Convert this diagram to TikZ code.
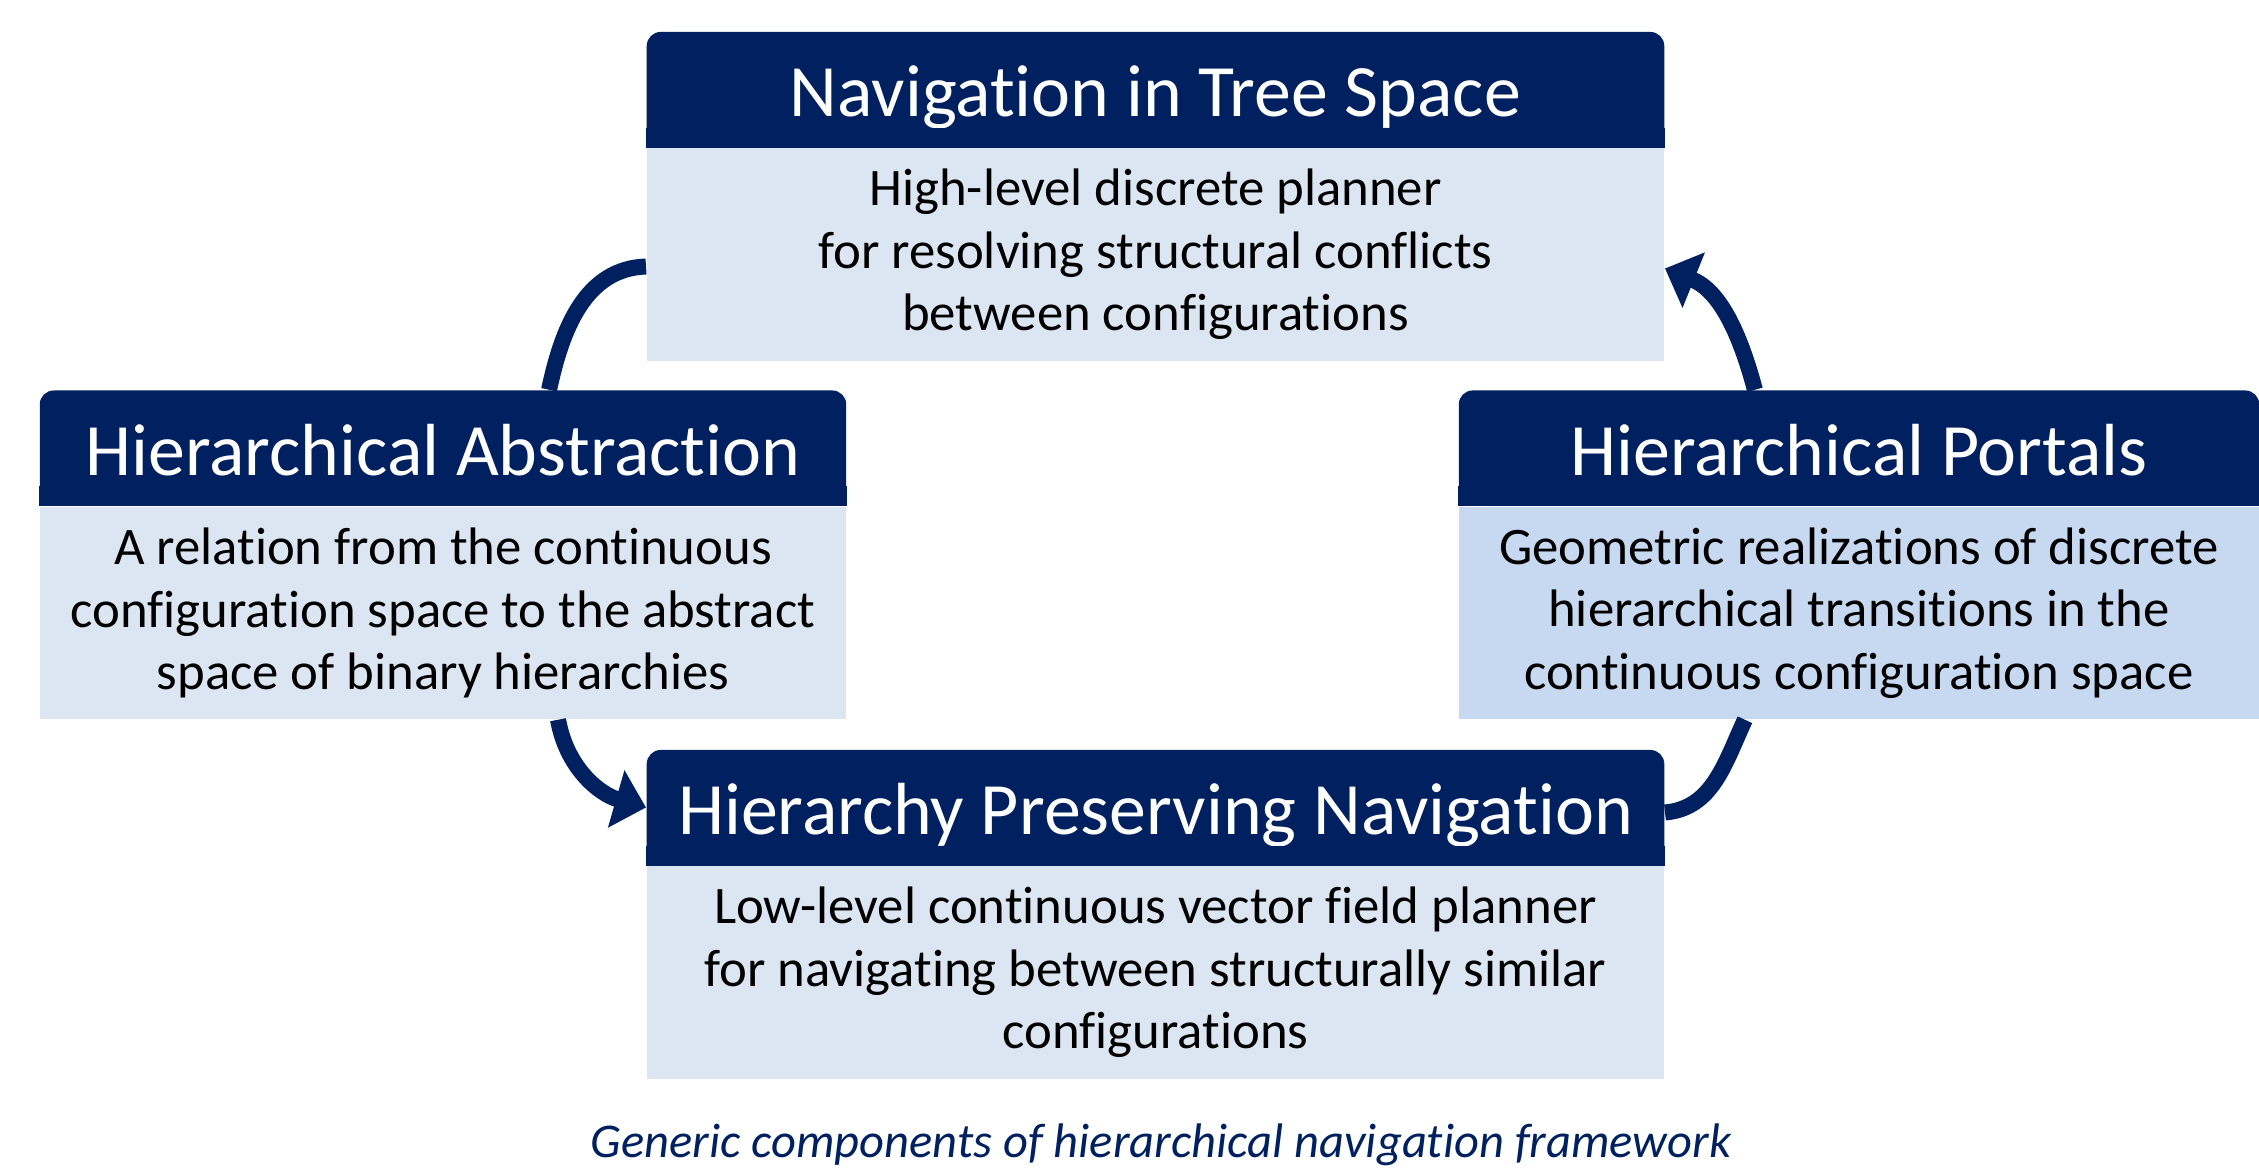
\documentclass[tikz,border=0pt]{standalone}
\usepackage{fontspec}
\setmainfont{Carlito}[Ligatures={NoCommon,NoContextual,NoRare}, Contextuals=NoAlternate]
\usepackage{xcolor}
\usepackage{tikz}
\usetikzlibrary{arrows.meta,positioning}
\definecolor{navy}{HTML}{002060}
\definecolor{paleblue}{HTML}{DCE6F2}
\definecolor{softblue}{HTML}{C6D9F1}

\begin{document}
\begin{tikzpicture}[x=0.01cm, y=0.01cm,
    hdr/.style={fill=navy, rounded corners=0.14cm, text=white, minimum width=#1,
                minimum height=1.15cm, inner sep=0pt, text height=15.5pt, text depth=0pt,
                font=\fontsize{21}{25}\selectfont},
    descr/.style 2 args={fill=#1, minimum width=#2, minimum height=2.12cm, inner sep=0pt,
                align=center, font=\fontsize{15}{17.8}\selectfont},
    cycarrow/.style={draw=navy, line width=0.16cm},
    tip/.style={-{Triangle[length=0.31cm, width=0.58cm]}},
    caption/.style={font=\fontsize{13.8}{16}\selectfont\itshape, text=navy}
]
\useasboundingbox (0,0) rectangle (2259,1170);

%% Headers
\node[hdr=10.17cm] (tree) at (1155.5,1080.5) {Navigation in Tree Space};
\node[hdr=8.06cm] (abstr) at (443,722) {Hierarchical Abstraction};
\node[hdr=8.00cm] (portals) at (1859,722) {Hierarchical Portals};
\node[hdr=10.17cm] (hpn) at (1155.5,362.5) {Hierarchy Preserving Navigation};

%% square off the lower corners of the headers
\foreach \n in {tree,abstr,portals,hpn}
  \fill[navy] ([yshift=0.2cm]\n.south west) rectangle (\n.south east);

%% Descriptions
\node[descr={paleblue}{10.17cm}, below=0pt of tree] (treeb)
  {High-level discrete planner\\for resolving structural conflicts\\between configurations};
\node[descr={paleblue}{8.06cm}, below=0pt of abstr] (abstrb)
  {A relation from the continuous\\configuration space to the abstract\\space of binary hierarchies};
\node[descr={softblue}{8.00cm}, below=0pt of portals] (portalsb)
  {Geometric realizations of discrete\\hierarchical transitions in the\\continuous configuration space};
\node[descr={paleblue}{10.17cm}, below=0pt of hpn] (hpnb)
  {Low-level continuous vector field planner\\for navigating between structurally similar\\configurations};

%% Cycle arrows
\draw[cycarrow] ([xshift=1.06cm]abstr.north) to[out=78, in=182] ([yshift=-0.12cm]treeb.west);
\draw[cycarrow, tip] ([xshift=1.15cm]abstrb.south) to[out=-80, in=164] (hpn.west);
\draw[cycarrow] ([yshift=-0.05cm]hpn.east) to[out=5, in=245] ([xshift=-1.14cm]portalsb.south);
\draw[cycarrow, tip] ([xshift=-1.04cm]portals.north) to[out=105, in=-22] ([yshift=-0.14cm]treeb.east);

%% Caption
\node[caption] (cap) at (1161,25) {Generic components of hierarchical navigation framework};

\end{tikzpicture}
\end{document}
